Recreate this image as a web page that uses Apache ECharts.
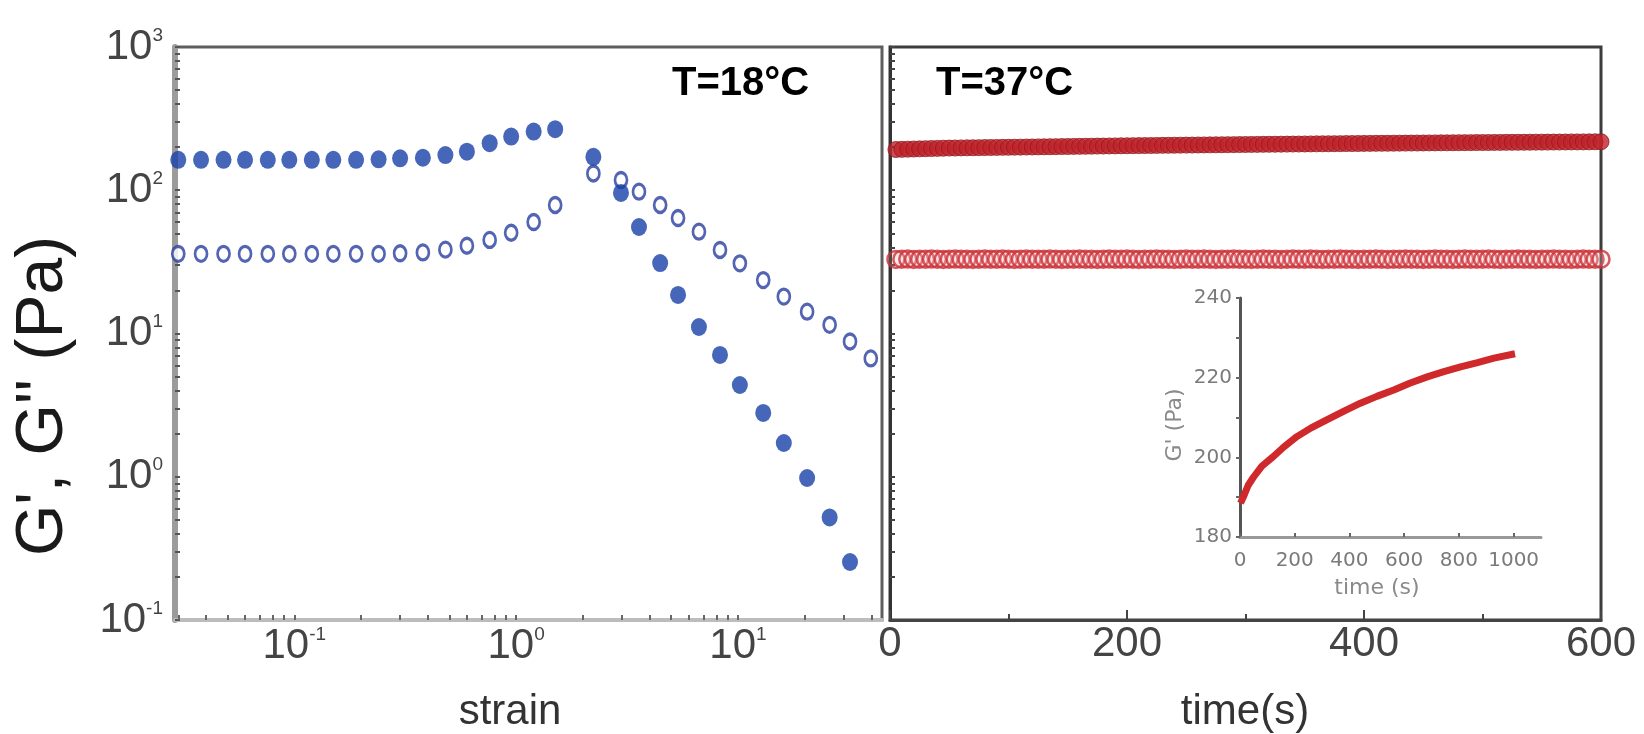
<!DOCTYPE html>
<html>
<head>
    <meta charset="UTF-8">
    <title>G', G'' strain / time sweep</title>
    <script src="https://cdn.jsdelivr.net/npm/echarts@6/dist/echarts.min.js"></script>
    <style>
        html, body { margin: 0; padding: 0; background: #fff; }
        #main { width: 1644px; height: 734px; }
    </style>
</head>
<body>
<div id="main"></div>
<script type="text/javascript">
    // strain sweep at 18 C
    var strainG1 = [0.030, 0.038, 0.048, 0.060, 0.076, 0.095, 0.12, 0.15, 0.19, 0.24, 0.30, 0.38, 0.48, 0.60, 0.76, 0.95, 1.2, 1.5,
        2.23, 2.97, 3.58, 4.46, 5.37, 6.67, 8.30, 10.2, 13.0, 16.1, 20.5, 25.9, 32.0];
    var storageG1 = [163, 163, 163, 163, 163, 163, 163, 163, 163, 164.5, 167, 168.6, 176, 186, 213, 237, 257, 267,
        171, 95.7, 55.4, 31, 18.6, 11.1, 7.08, 4.37, 2.79, 1.72, 0.98, 0.52, 0.254];
    var strainG2 = [0.030, 0.038, 0.048, 0.060, 0.076, 0.095, 0.12, 0.15, 0.19, 0.24, 0.30, 0.38, 0.48, 0.60, 0.76, 0.95, 1.2, 1.5,
        2.23, 2.97, 3.58, 4.46, 5.37, 6.67, 8.30, 10.2, 13.0, 16.1, 20.5, 25.9, 32.0, 39.7];
    var lossG2 = [36, 36, 36, 36, 36, 36, 36, 36, 36, 36, 36.3, 36.8, 38.5, 41, 45, 50.5, 60, 78.9,
        131, 118, 97.7, 78.9, 64, 51.4, 38.3, 30.9, 23.6, 18.1, 14.2, 11.5, 8.8, 6.7];

    // time sweep at 37 C
    var timeS = [5, 10, 15, 20, 25, 30, 35, 40, 45, 50, 55, 60, 65, 70, 75, 80, 85, 90, 95, 100,
        105, 110, 115, 120, 125, 130, 135, 140, 145, 150, 155, 160, 165, 170, 175, 180, 185, 190, 195, 200,
        205, 210, 215, 220, 225, 230, 235, 240, 245, 250, 255, 260, 265, 270, 275, 280, 285, 290, 295, 300,
        305, 310, 315, 320, 325, 330, 335, 340, 345, 350, 355, 360, 365, 370, 375, 380, 385, 390, 395, 400,
        405, 410, 415, 420, 425, 430, 435, 440, 445, 450, 455, 460, 465, 470, 475, 480, 485, 490, 495, 500,
        505, 510, 515, 520, 525, 530, 535, 540, 545, 550, 555, 560, 565, 570, 575, 580, 585, 590, 595, 600];
    var storageT = [192.5, 193, 193.5, 194, 194.5, 195, 195.5, 196, 196.5, 197,
        197.2, 197.5, 197.8, 198, 198.3, 198.6, 198.8, 199, 199.3, 199.5,
        199.8, 200, 200.3, 200.5, 200.8, 201, 201.3, 201.5, 201.8, 202,
        202.3, 202.5, 202.8, 203, 203.3, 203.5, 203.8, 204, 204.3, 204.5,
        204.7, 204.9, 205.1, 205.3, 205.5, 205.8, 206, 206.2, 206.4, 206.6,
        206.8, 207, 207.2, 207.4, 207.6, 207.8, 208, 208.2, 208.4, 208.6,
        208.8, 209, 209.2, 209.3, 209.5, 209.7, 209.9, 210.1, 210.2, 210.4,
        210.6, 210.8, 211, 211.1, 211.3, 211.5, 211.7, 211.8, 212, 212.2,
        212.4, 212.5, 212.7, 212.8, 213, 213.2, 213.3, 213.5, 213.6, 213.8,
        214, 214.1, 214.3, 214.4, 214.6, 214.7, 214.9, 215, 215.2, 215.3,
        215.4, 215.6, 215.7, 215.9, 216, 216.1, 216.3, 216.4, 216.6, 216.7,
        216.8, 217, 217.1, 217.2, 217.4, 217.5, 217.6, 217.7, 217.9, 218];
    var lossT = [32.9, 33.0, 33.1, 32.9, 33.0, 33.0, 33.1, 33.0, 32.9, 33.0,
        33.1, 33.0, 33.0, 32.9, 33.0, 33.1, 33.0, 33.0, 33.1, 33.0,
        32.9, 33.0, 33.1, 33.0, 33.0, 33.0, 33.1, 33.0, 32.9, 33.0,
        33.0, 33.1, 33.0, 33.0, 32.9, 33.0, 33.1, 33.0, 33.0, 33.1,
        33.0, 32.9, 33.0, 33.0, 33.1, 33.0, 33.0, 32.9, 33.0, 33.1,
        33.0, 33.0, 33.1, 33.0, 32.9, 33.0, 33.0, 33.1, 33.0, 33.0,
        32.9, 33.0, 33.1, 33.0, 33.0, 32.9, 33.0, 33.1, 33.0, 33.0,
        33.1, 33.0, 32.9, 33.0, 33.0, 33.1, 33.0, 33.0, 32.9, 33.0,
        33.0, 33.1, 33.0, 32.9, 33.0, 33.0, 33.1, 33.0, 33.0, 32.9,
        33.0, 33.1, 33.0, 33.0, 32.9, 33.0, 33.1, 33.0, 33.0, 33.0,
        33.1, 33.0, 32.9, 33.0, 33.0, 33.1, 33.0, 33.0, 32.9, 33.0,
        33.0, 33.1, 33.0, 33.0, 32.9, 33.0, 33.1, 33.0, 33.0, 33.0];

    // inset G' (Pa) vs time (s)
    var insetTime = [2, 12, 30, 49, 80, 122, 160, 208, 260, 317, 380, 440, 500, 562, 620, 684, 745, 806, 868, 928, 1005];
    var insetG = [188.5, 190, 193, 195, 197.8, 200.2, 202.6, 205.2, 207.4, 209.4, 211.6, 213.6, 215.3, 216.9, 218.6, 220.2, 221.5, 222.7, 223.8, 224.9, 226];

    // tick labels
    var decadeLabels = [0.1, 1, 10, 100, 1000];
    var strainLabels = [0.1, 1, 10];
    var insetXLabels = [0, 200, 400, 600, 800, 1000];
    var insetYTicks = [180, 190, 200, 210, 220, 230, 240];

    var strainMin = 0.029, strainMax = 44.6;

    function logTicks(lo, hi) {
        var out = [];
        [0.01, 0.1, 1, 10, 100].forEach(function (d) {
            for (var k = 1; k <= 9; k++) {
                var v = +(k * d).toPrecision(3);
                if (v >= lo && v <= hi) out.push(v);
            }
        });
        if (hi >= 1000) out.push(1000);
        return out;
    }
    function pair(xs, ys) {
        return xs.map(function (x, i) { return [x, ys[i]]; });
    }
    function powLabel(v) {
        var e = Math.round(Math.log10(v));
        return '{b|10}{s|' + e + '}';
    }

    var font = '"Liberation Sans", Arial, sans-serif';
    var smallFont = '"DejaVu Sans", sans-serif';
    var powRich = {
        b: { fontSize: 42, color: '#444', fontFamily: font },
        s: { fontSize: 19, color: '#444', fontFamily: font, verticalAlign: 'top' }
    };

    var myChart = echarts.init(document.getElementById('main'));

    var option = {
        animation: false,
        backgroundColor: '#fff',
        grid: [
            { left: 175, top: 47, width: 707, height: 573, show: true, borderColor: '#5e5e5e', borderWidth: 3, outerBoundsMode: 'none' },
            { left: 890, top: 47, width: 711, height: 573, show: true, borderColor: '#3c3c3c', borderWidth: 3, outerBoundsMode: 'none' },
            { left: 1240, top: 298, width: 301, height: 239, outerBoundsMode: 'none' }
        ],
        xAxis: [
            {
                gridIndex: 0, type: 'log', min: strainMin, max: strainMax,
                axisLine: { lineStyle: { color: '#bcbcbc', width: 4 } },
                axisTick: { inside: true, length: 5, customValues: logTicks(strainMin, strainMax), lineStyle: { color: '#666', width: 2 } },
                axisLabel: { customValues: strainLabels, margin: 5, formatter: powLabel, rich: powRich },
                splitLine: { show: false }
            },
            {
                gridIndex: 1, type: 'value', min: 0, max: 600, interval: 200,
                axisLine: { lineStyle: { color: '#444', width: 3 } },
                axisTick: { inside: true, length: 10, lineStyle: { color: '#444', width: 2 } },
                minorTick: { show: true, splitNumber: 2, length: 6, lineStyle: { color: '#444', width: 2 } },
                axisLabel: { margin: 3, fontSize: 42, color: '#444', fontFamily: font },
                splitLine: { show: false }
            },
            {
                gridIndex: 2, type: 'value', min: 0, max: 1100, interval: 200,
                axisLine: { lineStyle: { color: '#999', width: 3 } },
                axisTick: { inside: true, length: 4, customValues: insetXLabels, lineStyle: { color: '#666', width: 2 } },
                axisLabel: {
                    customValues: insetXLabels, margin: 14, fontSize: 20, color: '#7a7a7a', fontFamily: smallFont,
                    formatter: function (v) { return String(v); }
                },
                splitLine: { show: false }
            }
        ],
        yAxis: [
            {
                gridIndex: 0, type: 'log', min: 0.1, max: 1000,
                axisLine: { lineStyle: { color: '#9c9c9c', width: 6 } },
                axisTick: { inside: true, length: 5, customValues: logTicks(0.1, 1000), lineStyle: { color: '#555', width: 2 } },
                axisLabel: { customValues: decadeLabels, margin: 12, formatter: powLabel, rich: powRich },
                splitLine: { show: false }
            },
            {
                gridIndex: 1, type: 'log', min: 0.1, max: 1000,
                axisLine: { lineStyle: { color: '#333', width: 3 } },
                axisTick: { inside: true, length: 5, customValues: logTicks(0.1, 1000), lineStyle: { color: '#444', width: 2 } },
                axisLabel: { show: false },
                splitLine: { show: false }
            },
            {
                gridIndex: 2, type: 'value', min: 180, max: 240, interval: 20,
                axisLine: { lineStyle: { color: '#555', width: 3 } },
                axisTick: { length: 4, customValues: insetYTicks, lineStyle: { color: '#666', width: 2 } },
                axisLabel: { margin: 8, fontSize: 20, color: '#7a7a7a', fontFamily: smallFont },
                splitLine: { show: false }
            }
        ],
        series: [
            {
                name: "G''", type: 'scatter', xAxisIndex: 0, yAxisIndex: 0,
                data: pair(strainG2, lossG2), symbol: 'circle', symbolSize: [12, 15],
                itemStyle: { color: '#fff', borderColor: '#283f9f', borderWidth: 3 }
            },
            {
                name: "G'", type: 'scatter', xAxisIndex: 0, yAxisIndex: 0,
                data: pair(strainG1, storageG1), symbol: 'circle', symbolSize: [16, 18],
                itemStyle: { color: '#1740a8' }
            },
            {
                name: "G'' 37", type: 'scatter', xAxisIndex: 1, yAxisIndex: 1,
                data: pair(timeS, lossT), symbol: 'circle', symbolSize: 17,
                itemStyle: { color: 'rgba(245,190,190,0.2)', borderColor: '#cc3037', borderWidth: 2.5 }
            },
            {
                name: "G' 37", type: 'scatter', xAxisIndex: 1, yAxisIndex: 1,
                data: pair(timeS, storageT), symbol: 'circle', symbolSize: 16,
                itemStyle: { color: '#c0232a', borderColor: '#8f1a1e', borderWidth: 1 }
            },
            {
                name: 'inset', type: 'line', xAxisIndex: 2, yAxisIndex: 2,
                data: pair(insetTime, insetG), showSymbol: false,
                lineStyle: { color: '#d0292c', width: 7 }
            }
        ],
        graphic: [
            {
                type: 'text', x: 44, y: 396, rotation: Math.PI / 2,
                style: { text: "G', G'' (Pa)", fontSize: 66, fontFamily: font, fill: '#1a1a1a', align: 'center', verticalAlign: 'middle', textAlign: 'center', textVerticalAlign: 'middle' }
            },
            {
                type: 'text', x: 510, y: 712,
                style: { text: 'strain', fontSize: 42, fontFamily: font, fill: '#333', align: 'center', verticalAlign: 'middle', textAlign: 'center', textVerticalAlign: 'middle' }
            },
            {
                type: 'text', x: 1245, y: 712,
                style: { text: 'time(s)', fontSize: 42, fontFamily: font, fill: '#333', align: 'center', verticalAlign: 'middle', textAlign: 'center', textVerticalAlign: 'middle' }
            },
            {
                type: 'text', x: 672, y: 84,
                style: {
                    text: '{k|T=}{b|18}{k|°C}', verticalAlign: 'middle', textVerticalAlign: 'middle',
                    rich: {
                        k: { fontSize: 40, fontWeight: 'bold', fontFamily: font, color: '#111' },
                        b: { fontSize: 40, fontWeight: 'bold', fontFamily: font, color: '#1f47b0' }
                    }
                }
            },
            {
                type: 'text', x: 936, y: 84,
                style: {
                    text: '{k|T=}{r|37}{k|°C}', verticalAlign: 'middle', textVerticalAlign: 'middle',
                    rich: {
                        k: { fontSize: 40, fontWeight: 'bold', fontFamily: font, color: '#111' },
                        r: { fontSize: 40, fontWeight: 'bold', fontFamily: font, color: '#d3262b' }
                    }
                }
            },
            {
                type: 'text', x: 1175, y: 425, rotation: Math.PI / 2,
                style: { text: "G' (Pa)", fontSize: 22, fontFamily: smallFont, fill: '#8a8a8a', align: 'center', verticalAlign: 'middle', textAlign: 'center', textVerticalAlign: 'middle' }
            },
            {
                type: 'text', x: 1377, y: 588,
                style: { text: 'time (s)', fontSize: 22, fontFamily: smallFont, fill: '#8a8a8a', align: 'center', verticalAlign: 'middle', textAlign: 'center', textVerticalAlign: 'middle' }
            }
        ]
    };

    myChart.setOption(option);
</script>
</body>
</html>
